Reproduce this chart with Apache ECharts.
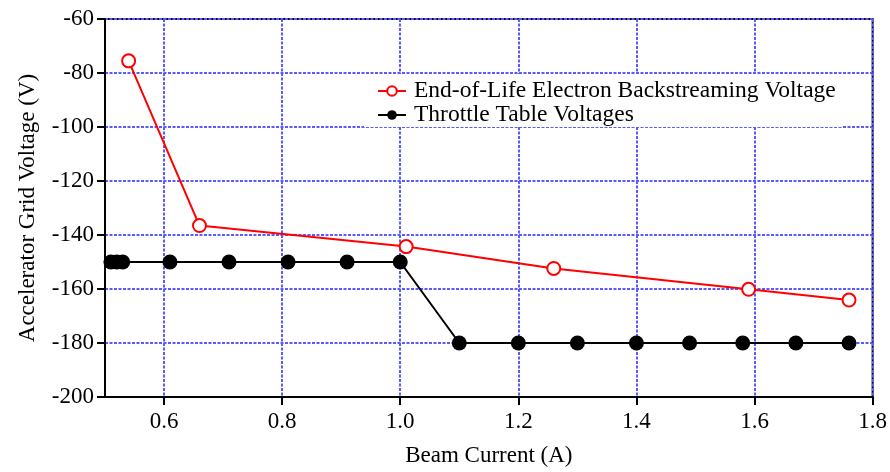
<!DOCTYPE html>
<html>
<head>
<meta charset="utf-8">
<script src="https://cdn.jsdelivr.net/npm/echarts@6/dist/echarts.min.js"></script>
<style>
  html, body { margin: 0; padding: 0; background: #fff; }
  #chart { width: 890px; height: 472px; }
</style>
</head>
<body>
<div id="chart"></div>
<script>
// End-of-life electron backstreaming voltage vs. beam current
const eolCurrent = [0.54, 0.66, 1.01, 1.26, 1.59, 1.76];
const eolVoltage = [-75.5, -136.5, -144.3, -152.4, -160.1, -164.1];

// Throttle table accelerator grid voltages
const throttleCurrent = [0.51, 0.52, 0.53, 0.61, 0.71, 0.81, 0.91, 1.00,
                         1.10, 1.20, 1.30, 1.40, 1.49, 1.58, 1.67, 1.76];
const throttleVoltage = [-150, -150, -150, -150, -150, -150, -150, -150,
                         -180, -180, -180, -180, -180, -180, -180, -180];

const seriesNames = ['End-of-Life Electron Backstreaming Voltage', 'Throttle Table Voltages'];
const xTicks = [0.6, 0.8, 1.0, 1.2, 1.4, 1.6, 1.8];

const FONT = '"Liberation Serif", "DejaVu Serif", serif';
const FS = 23;
const gridLineStyle = { color: '#5a5aff', width: 2, type: [3, 1.5] };

function pairs(xs, ys) { return xs.map((x, i) => [x, ys[i]]); }

const chart = echarts.init(document.getElementById('chart'), null, { renderer: 'canvas' });
chart.setOption({
  animation: false,
  backgroundColor: '#fff',
  grid: {
    left: 105, right: 14, top: 19, bottom: 74,
    show: true, borderColor: '#000', borderWidth: 2, backgroundColor: 'transparent'
  },
  legend: {
    orient: 'vertical',
    left: 364, top: 74,
    padding: [5, 6, 0, 13],
    backgroundColor: '#fff',
    itemWidth: 28, itemHeight: 12, itemGap: 0,
    textStyle: { fontFamily: FONT, fontSize: 23.5, lineHeight: 22, color: '#000', padding: [0, 0, 0, 3] },
    data: seriesNames
  },
  xAxis: {
    type: 'value', min: 0.5, max: 1.8,
    axisLine: { show: true, lineStyle: { color: '#000', width: 2 } },
    axisTick: { show: true, length: 8, lineStyle: { color: '#000', width: 2 }, customValues: xTicks },
    axisLabel: {
      fontFamily: FONT, fontSize: FS, color: '#000', margin: 13,
      customValues: xTicks,
      formatter: v => v.toFixed(1)
    },
    splitLine: { show: true, lineStyle: gridLineStyle },
    name: 'Beam Current (A)', nameLocation: 'middle', nameGap: 47,
    nameTextStyle: { fontFamily: FONT, fontSize: FS, color: '#000' }
  },
  yAxis: {
    type: 'value', min: -200, max: -60, interval: 20,
    axisLine: { show: true, lineStyle: { color: '#000', width: 2 } },
    axisTick: { show: true, length: 8, lineStyle: { color: '#000', width: 2 } },
    axisLabel: { fontFamily: FONT, fontSize: FS, color: '#000', margin: 11, padding: [0, 0, 4, 0] },
    splitLine: { show: true, lineStyle: gridLineStyle },
    name: 'Accelerator Grid Voltage (V)', nameLocation: 'middle', nameGap: 66,
    nameTextStyle: { fontFamily: FONT, fontSize: FS, color: '#000' }
  },
  series: [
    {
      name: seriesNames[0], type: 'line',
      data: pairs(eolCurrent, eolVoltage),
      symbol: 'emptyCircle', symbolSize: 13,
      lineStyle: { color: '#ff0000', width: 2 },
      itemStyle: { color: '#ff0000', borderColor: '#ff0000', borderWidth: 2 },
      z: 3
    },
    {
      name: seriesNames[1], type: 'line',
      data: pairs(throttleCurrent, throttleVoltage),
      symbol: 'circle', symbolSize: 15,
      lineStyle: { color: '#000', width: 2 },
      itemStyle: { color: '#000' },
      z: 2
    }
  ]
});
</script>
</body>
</html>
